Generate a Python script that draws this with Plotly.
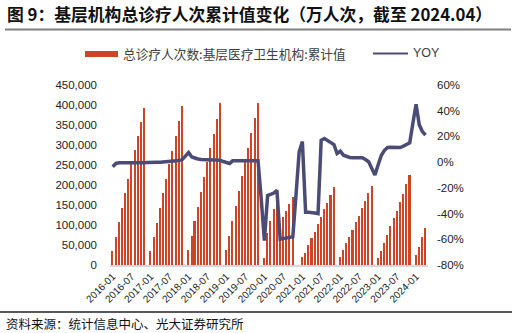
import pandas as pd
import plotly.graph_objects as go

# ---------------- data ----------------
months = pd.date_range("2016-01-01", "2024-04-01", freq="MS")

# cumulative visits (万人次), Jan..Dec per year (Dec not reported)
v2016 = [36000, 71000, 107000, 143000, 179000, 215000, 252000, 287000, 322000, 357000, 393000, None]
v2017 = [36000, 71000, 104000, 142000, 179000, 215000, 252000, 286000, 323000, 360000, 398000, None]
v2018 = [37500, 73000, 110000, 146000, 183000, 221000, 257000, 293000, 327000, 365000, 404000, None]
v2019 = [37500, 73000, 110000, 148000, 185000, 222000, 258000, 293000, 331000, 368000, 404000, None]
v2020 = [17000, 80000, 111000, 139000, 172000, 62000, 119000, 136000, 152000, 171000, None, None]
v2021 = [19000, 31000, 50000, 67000, 83000, 102000, 121000, 139000, 156000, 175000, 195000, None]
v2022 = [21000, 37500, 54000, 71000, 87500, 107000, 123000, 142000, 160000, 181000, 197500, None]
v2023 = [18000, 35000, 56000, 75000, 97500, 117000, 136000, 158000, 177500, 202000, 225000, None]
v2024 = [25000, 46000, 71000, 93000]

# YOY (%)
y2016 = [-3.5, -1, -0.5, -0.5, -1, -1, -0.8, -1, -0.5, -0.8, -0.5, -0.3]
y2017 = [0, -0.3, 0, 0, 0.2, 0.5, 0.5, 0.8, 1, 1.2, 2, 4.5]
y2018 = [7.5, 4, 3, 2.5, 2, 2, 2, 2, 1.8, 1.5, 1.5, 0.5]
y2019 = [-0.5, -1, 1, 1, 1, 1, 1, 1, 1, 1, 1, -28]
y2020 = [-61, -26, -25, -24, -22, -60, -59.5, -59, -58.5, -58, -25, 8]
y2021 = [16, -39, -39, -39, -39.5, -40, 17, 18.4, 16.8, 15.5, 13.7, 6.7]
y2022 = [8.5, 5.4, 4.5, 3.6, 3.5, 3.4, 3.4, 3.4, 2, 0.3, -5, -10]
y2023 = [-2, 5.4, 9, 11.4, 11.5, 11.3, 11.3, 11.4, 12.5, 13.5, 15, 30]
y2024 = [45, 29, 24, 21]

bar_name = "总诊疗人次数:基层医疗卫生机构:累计值"
line_name = "YOY"
title = "图 9：基层机构总诊疗人次累计值变化（万人次，截至 2024.04）"
source = "资料来源：统计信息中心、光大证券研究所"

left_ticks = list(range(0, 450001, 50000))
right_ticks = [-0.8, -0.6, -0.4, -0.2, 0, 0.2, 0.4, 0.6]
x_tick_dates = pd.date_range("2016-01-01", "2024-01-01", freq="6MS")

visits = v2016 + v2017 + v2018 + v2019 + v2020 + v2021 + v2022 + v2023 + v2024
yoy = [v / 100 for v in (y2016 + y2017 + y2018 + y2019 + y2020 + y2021 + y2022 + y2023 + y2024)]

# ---------------- styling ----------------
BAR_C = "#CD4427"
LINE_C = "#4B4C76"
W, H = 516, 333
L, R, T, B = 110, 428, 85, 265  # plot area in px


def px(x):
    return (x - L) / (R - L)


def py(y):
    return (B - y) / (B - T)


fig = go.Figure()
fig.add_trace(go.Bar(x=months, y=visits, name=bar_name, marker=dict(color=BAR_C, line=dict(width=0)),
                     width=15 * 86400000, showlegend=False))
fig.add_trace(go.Scatter(x=months, y=yoy, name=line_name, yaxis="y2", mode="lines",
                         line=dict(color=LINE_C, width=3.5), showlegend=False))

tick_font = dict(family="Liberation Sans, Arial, sans-serif", size=11.5, color="#222")

fig.update_layout(
    width=W, height=H,
    margin=dict(l=L, r=W - R, t=T, b=H - B),
    paper_bgcolor="white", plot_bgcolor="white",
    bargap=0,
    xaxis=dict(type="date", range=["2015-12-06", "2024-04-25"],
               tickvals=list(x_tick_dates), ticktext=[d.strftime("%Y-%m") for d in x_tick_dates],
               tickangle=-45, tickfont=dict(family="Liberation Sans, Arial, sans-serif", size=10, color="#222"),
               showgrid=False, showline=True, linecolor="#D9D9D9", linewidth=1.5, ticks="", zeroline=False),
    yaxis=dict(range=[0, 450000], tickvals=left_ticks, ticktext=[f"{v:,}" for v in left_ticks],
               tickfont=tick_font, showgrid=False, zeroline=False, showline=False, ticks="",
               ticklabelstandoff=12),
    yaxis2=dict(range=[-0.8, 0.6], overlaying="y", side="right", tickvals=right_ticks,
                ticktext=[f"{round(v * 100)}%" for v in right_ticks], tickfont=tick_font,
                showgrid=False, zeroline=False, showline=False, ticks="", ticklabelstandoff=8),
)

ann = []
ann.append(dict(text=f"<b>{title}</b>", x=px(5), y=py(14), xref="paper", yref="paper", xanchor="left",
                yanchor="middle", showarrow=False,
                font=dict(family="Noto Sans CJK SC", size=16.8, color="#111")))
ann.append(dict(text=bar_name, x=px(121), y=py(54), xref="paper", yref="paper", xanchor="left",
                yanchor="middle", showarrow=False,
                font=dict(family="Noto Sans CJK SC", size=12.7, color="#404040")))
ann.append(dict(text=line_name, x=px(411), y=py(53), xref="paper", yref="paper", xanchor="left",
                yanchor="middle", showarrow=False,
                font=dict(family="Liberation Sans, Arial, sans-serif", size=12.5, color="#404040")))
ann.append(dict(text=source, x=px(4), y=py(323), xref="paper", yref="paper", xanchor="left",
                yanchor="middle", showarrow=False,
                font=dict(family="Noto Sans CJK SC", size=12.5, color="#111")))

shapes = [
    dict(type="line", xref="paper", yref="paper", x0=px(5), x1=px(511), y0=py(29.5), y1=py(29.5),
         line=dict(color="#808080", width=2)),
    dict(type="line", xref="paper", yref="paper", x0=px(0), x1=px(512), y0=py(312), y1=py(312),
         line=dict(color="#222", width=1.5)),
    dict(type="rect", xref="paper", yref="paper", x0=px(85), x1=px(118), y0=py(57), y1=py(51),
         fillcolor=BAR_C, line=dict(width=0)),
    dict(type="line", xref="paper", yref="paper", x0=px(373), x1=px(408), y0=py(53.5), y1=py(53.5),
         line=dict(color=LINE_C, width=2)),
]
fig.update_layout(annotations=ann, shapes=shapes)

fig.write_html("out.html")
